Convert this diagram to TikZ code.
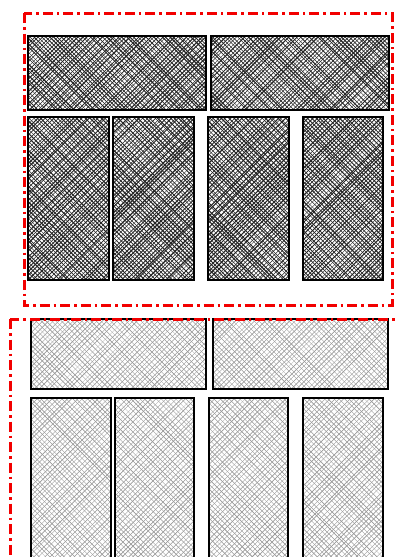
\documentclass[tikz,border=0pt]{standalone}
\usepackage{tikz}
\usetikzlibrary{positioning}

\begin{document}
\begin{tikzpicture}[
  x=1pt, y=-1pt,
  pane/.style 2 args={draw, line width=2.3pt, anchor=north west, inner sep=0pt,
    minimum width=#1pt, minimum height=#2pt},
  hatch/.style n args={4}{path picture={
    \foreach \k in {0,...,70}{
      \pgfmathsetmacro\d{#4*\k-140}
      \pgfmathsetmacro\lw{#2*(0.5+rnd)}
      \pgfmathsetmacro\off{#3*rnd}
      \draw[#1, line width=\lw pt, shift={(path picture bounding box.center)}]
        (\d+\off-140,-140) -- ++(280,280);
      \pgfmathsetmacro\lw{#2*(0.5+rnd)}
      \pgfmathsetmacro\off{#3*rnd}
      \draw[#1, line width=\lw pt, shift={(path picture bounding box.center)}]
        (\d+\off-140,140) -- ++(280,-280);
    }}},
  dark/.style={hatch={black!85}{0.8}{2}{4}},
  light/.style={hatch={black!40}{0.5}{2}{5}},
  zone/.style={draw=red!95!black, line width=3pt,
    dash pattern=on 10pt off 4pt on 2.5pt off 4pt},
]
\pgfmathsetseed{42}
\useasboundingbox (0,0) rectangle (395,557);
\clip (0,0) rectangle (395,557);
% upper group
\node[pane={178}{74}, dark] (upA) at (27,35) {};
\node[pane={178}{74}, dark] (upB) at (210,35) {};
\node[pane={81}{163}, dark] (up1) at (27,116) {};
\node[pane={81}{163}, dark] (up2) at (112,116) {};
\node[pane={81}{163}, dark] (up3) at (207,116) {};
\node[pane={80}{163}, dark] (up4) at (302,116) {};
% lower group
\node[pane={175}{70}, light] (lowA) at (30,318) {};
\node[pane={175}{70}, light] (lowB) at (212,318) {};
\node[pane={80}{162}, light] (low1) at (30,397) {};
\node[pane={79}{162}, light] (low2) at (114,397) {};
\node[pane={79}{162}, light] (low3) at (208,397) {};
\node[pane={80}{162}, light] (low4) at (302,397) {};
% frames
\draw[zone] (24,13) rectangle (392,305);
\draw[zone] (10,319) rectangle (410,600);
\end{tikzpicture}
\end{document}
